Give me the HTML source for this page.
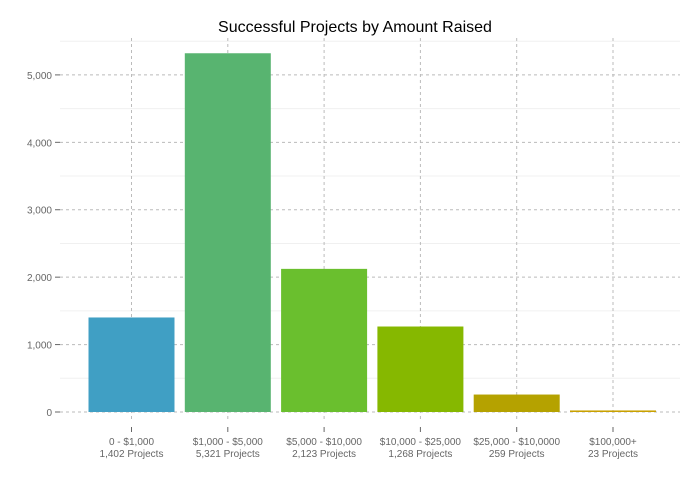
<!DOCTYPE html>
<html><head><meta charset="utf-8"><style>
body{margin:0;background:#fff;font-family:"Liberation Sans",sans-serif}
</style></head><body>
<svg id="chart" width="700" height="483" xmlns="http://www.w3.org/2000/svg">
<text x="355" y="32" text-anchor="middle" font-size="16" fill="#000">Successful Projects by Amount Raised</text>
<g id="grid"></g><g id="bars"></g><g id="axes"></g>
</svg>
<script>
const categories=["0 - $1,000","$1,000 - $5,000","$5,000 - $10,000","$10,000 - $25,000","$25,000 - $10,0000","$100,000+"];
const counts=["1,402 Projects","5,321 Projects","2,123 Projects","1,268 Projects","259 Projects","23 Projects"];
const values=[1402,5321,2123,1268,259,23];
const colors=["#409fc4","#58b470","#6abf2e","#86b800","#b5a200","#c9a100"];
const yTicks=[0,1000,2000,3000,4000,5000];
const yLabels=["0","1,000","2,000","3,000","4,000","5,000"];
const NS="http://www.w3.org/2000/svg";
const y=v=>412-v*0.06742;
const x=i=>131.5+i*96.3;
function mk(t,a,p){const e=document.createElementNS(NS,t);for(const k in a)e.setAttribute(k,a[k]);p.appendChild(e);return e;}
const g=document.getElementById('grid'),b=document.getElementById('bars'),ax=document.getElementById('axes');
for(let v=500;v<=5500;v+=1000){const l=mk('line',{x1:60,x2:680,y1:y(v),y2:y(v),stroke:'#f0f0f0'},g);

}
yTicks.forEach((v,i)=>{const l=mk('line',{x1:60,x2:680,y1:y(v),y2:y(v),stroke:'#bbb','stroke-dasharray':'3,3'},g);


mk('line',{x1:55,x2:60,y1:y(v),y2:y(v),stroke:'#666'},ax);
const t=mk('text',{x:52,y:y(v)+4,'text-anchor':'end','font-size':10,fill:'#666'},ax);t.textContent=yLabels[i];

});
categories.forEach((c,i)=>{const l=mk('line',{x1:x(i),x2:x(i),y1:38,y2:420,stroke:'#bbb','stroke-dasharray':'3,3'},g);


const r=mk('rect',{x:x(i)-43,width:86,y:y(values[i]),height:412-y(values[i]),fill:colors[i]},b);


mk('line',{x1:x(i),x2:x(i),y1:427,y2:432,stroke:'#666'},ax);
const t=mk('text',{x:x(i),y:445,'text-anchor':'middle','font-size':10,fill:'#666'},ax);t.textContent=c;


const t2=mk('text',{x:x(i),y:457,'text-anchor':'middle','font-size':10,fill:'#666'},ax);t2.textContent=counts[i];

});
</script>
</body></html>
